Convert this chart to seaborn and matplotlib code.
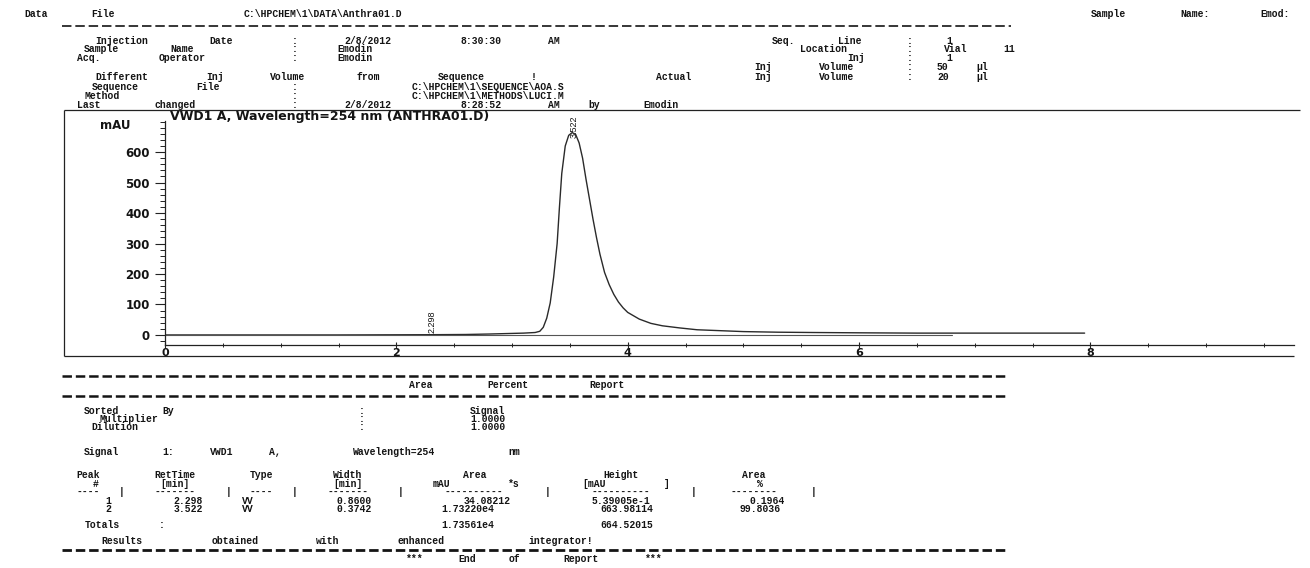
import re
import numpy as np
import pandas as pd
import matplotlib
matplotlib.use("Agg")
import matplotlib.pyplot as plt
from matplotlib.ticker import MultipleLocator, FixedLocator
import seaborn as sns

# ---------------- data ----------------
time_min = [0.0, 0.5, 1.0, 1.5, 2.0, 2.3, 2.6, 2.8, 3.0, 3.1, 3.2, 3.24, 3.27, 3.30,
            3.33, 3.36, 3.39, 3.41, 3.43, 3.46, 3.49, 3.52, 3.55, 3.58, 3.61, 3.64,
            3.67, 3.70, 3.73, 3.76, 3.80, 3.84, 3.88, 3.92, 3.96, 4.00, 4.10, 4.20,
            4.30, 4.45, 4.60, 4.80, 5.00, 5.30, 5.60, 6.00, 6.50, 7.00, 7.50, 7.95]
signal_mau = [0, 0, 0, 0, 0.5, 0.8, 1.5, 3, 5, 6, 8, 12, 25, 55,
              105, 190, 300, 420, 530, 620, 655, 664, 658, 630, 580, 510,
              445, 380, 320, 265, 205, 165, 133, 108, 89, 74, 52, 38,
              30, 23, 17, 14, 11, 9, 8, 7, 6, 6, 6, 6]
baseline_time = [0.0, 6.8]
baseline_mau = [0.0, 0.0]
x_ticks = [0, 2, 4, 6, 8]
y_ticks = [0, 100, 200, 300, 400, 500, 600]

chart_title = "VWD1 A, Wavelength=254 nm (ANTHRA01.D)"
y_unit = "mAU"

page_file = r"Data File C:\HPCHEM\1\DATA\Anthra01.D"
page_sample = "Sample Name: Emod:"
header_left = [("Injection Date", "2/8/2012 8:30:30 AM"),
               ("Sample Name", "Emodin"),
               ("Acq. Operator", "Emodin")]
inj_warning = "Different Inj Volume from Sequence !"
inj_actual = "Actual"
header_left2 = [("Sequence File", r"C:\HPCHEM\1\SEQUENCE\AOA.S"),
                ("Method", r"C:\HPCHEM\1\METHODS\LUCI.M"),
                ("Last changed", "2/8/2012 8:28:52 AM by Emodin")]
header_right = [("Seq. Line", " 1"), ("Location", "Vial 11"), ("Inj", " 1"),
                ("Inj Volume", "50 µl"), ("Inj Volume", "20 µl")]

report_title = "Area Percent Report"
report_params = [("Sorted By", "Signal"), ("Multiplier", "1.0000"), ("Dilution", "1.0000")]
signal_line = "Signal 1: VWD1 A, Wavelength=254 nm"
table_head1 = "Peak RetTime Type  Width     Area      Height     Area"
table_head2 = "  #   [min]        [min]   mAU   *s   [mAU   ]      %"
table_rule = "----|-------|----|-------|----------|----------|--------|"
peak_no = [1, 2]
ret_time = [2.298, 3.522]
peak_type = ["VV", "VV"]
width_min = [0.8600, 0.3742]
area_val = ["34.08212", "1.73220e4"]
height_val = ["5.39005e-1", "663.98114"]
area_pct = [0.1964, 99.8036]
totals_label = "Totals :"
total_area = "1.73561e4"
total_height = "664.52015"
results_note = "Results obtained with enhanced integrator!"
end_note = "*** End of Report ***"

# ---------------- style ----------------
sns.set_theme(style="ticks")
plt.rcParams["font.family"] = ["DejaVu Sans"]
plt.rcParams["lines.scale_dashes"] = False
TXT = "#141414"
W, H = 1310, 568

fig = plt.figure(figsize=(W / 100, H / 100), dpi=100, facecolor="white")
fa = fig.add_axes([0, 0, 1, 1])
fa.set_xlim(0, W)
fa.set_ylim(H, 0)
fa.axis("off")

P = 13.3  # width of one printed character cell in the scan (px)
X0 = 62
MONO = dict(family="Liberation Mono", fontsize=7, fontweight="bold", color=TXT)
TOK = re.compile(r"\||[^\s|]+")


def mono(x0, y, s):
    """Print a monospaced report line, word by word, on the scan's character grid."""
    for m in TOK.finditer(s):
        tok = m.group()
        xc = x0 + (m.start() + len(tok) / 2) * P
        fa.text(xc, y, tok, ha="center", va="center", **MONO)


def rule(x0, x1, y, lw=1.3, dash=(6.8, 2.8)):
    fa.plot([x0, x1], [y, y], color=TXT, lw=lw, ls=(0, dash), solid_capstyle="butt")


# ---------------- page header ----------------
mono(10, 14, page_file)
mono(W - len(page_sample) * P - 2, 14, page_sample)
rule(X0, 1011, 25.5, lw=1.2)

for y, (lab, val) in zip([40.5, 49.2, 57.9], header_left):
    mono(X0, y, f"{lab:<17}: {val}")
mono(X0, 77.0, f"{inj_warning:<43}{inj_actual}")
for y, (lab, val) in zip([86.6, 95.6, 104.6], header_left2):
    mono(X0, y, f"{lab:<17}: {val}")
for y, (lab, val) in zip([40.5, 49.2, 57.9, 66.6, 77.0], header_right):
    mono(730, y, f"{lab:>11}  : {val}")

# ---------------- chart frame ----------------
FR = dict(color="#222222", lw=0.9, solid_capstyle="butt")
fa.plot([64, 64], [110, 356], **FR)
fa.plot([64, 1300], [110, 110], **FR)
fa.plot([64, 1294], [356, 356], **FR)
fa.text(170, 116.5, chart_title, ha="left", va="center", fontsize=9,
        fontweight="bold", color=TXT, family="DejaVu Sans")
fa.text(115, 125.5, y_unit, ha="center", va="center", fontsize=8.5,
        fontweight="bold", color=TXT, family="DejaVu Sans")

# ---------------- chromatogram ----------------
ax = fig.add_axes([165 / W, (H - 345) / H, (1294 - 165) / W, (345 - 121) / H])
ax.set_facecolor("none")
df = pd.DataFrame({"time": time_min, "mAU": signal_mau})
sns.lineplot(data=df, x="time", y="mAU", ax=ax, color="#2a2a2a", linewidth=1.0,
             estimator=None, sort=False)
base = pd.DataFrame({"time": baseline_time, "mAU": baseline_mau})
sns.lineplot(data=base, x="time", y="mAU", ax=ax, color="#555555", linewidth=0.8,
             estimator=None, sort=False)
ax.set_xlim(0, 9.76)
ax.set_ylim(-33, 702)
ax.set_xlabel("")
ax.set_ylabel("")
sns.despine(ax=ax)
for s in ("left", "bottom"):
    ax.spines[s].set_color("#222222")
    ax.spines[s].set_linewidth(0.9)
ax.xaxis.set_major_locator(FixedLocator(x_ticks))
ax.xaxis.set_minor_locator(MultipleLocator(0.5))
ax.yaxis.set_major_locator(FixedLocator(y_ticks))
ax.yaxis.set_minor_locator(MultipleLocator(20))
ax.set_xticklabels([str(v) for v in x_ticks])
ax.set_yticklabels([str(v) for v in y_ticks])
ax.tick_params(axis="y", which="major", direction="out", length=7, width=0.8,
               color="#222222", pad=4, labelsize=8.5, labelcolor=TXT)
ax.tick_params(axis="y", which="minor", direction="out", length=3.5, width=0.7,
               color="#222222")
ax.tick_params(axis="x", which="major", direction="inout", length=5, width=0.8,
               color="#222222", pad=-0.5, labelsize=8, labelcolor=TXT)
ax.tick_params(axis="x", which="minor", direction="inout", length=3, width=0.7,
               color="#222222")
for lbl in ax.get_xticklabels() + ax.get_yticklabels():
    lbl.set_fontweight("bold")
ax.grid(False)

for rt in ret_time:
    yv = float(np.interp(rt, time_min, signal_mau))
    ax.annotate(f"{rt:.3f}", xy=(rt, yv), xytext=(1, 1 if yv < 50 else -4),
                textcoords="offset points", rotation=90, ha="center", va="bottom",
                fontsize=6.5, family="Liberation Sans", color=TXT,
                annotation_clip=False)

# ---------------- area percent report ----------------
rule(X0, 1006, 376, lw=1.8)
mono(X0, 385.5, " " * 25 + report_title)
rule(X0, 1006, 396, lw=1.8)
for y, (lab, val) in zip([410.5, 419, 427.5], report_params):
    mono(X0, y, f"{lab:<22}:      {val}")
mono(X0, 452, signal_line)
mono(X0, 475.5, table_head1)
mono(X0, 484, table_head2)
mono(X0, 492, table_rule)
for y, n, rt, tp, w, a, h, pc in zip([500.5, 509], peak_no, ret_time, peak_type,
                                     width_min, area_val, height_val, area_pct):
    a_txt = a.ljust(10) if "e" in a else a.rjust(10)
    mono(X0, y, f"{n:>4} {rt:>7.3f} {tp:<4} {w:>7.4f} {a_txt} {h:>10} {pc:>8.4f}")
mono(X0, 525, totals_label.ljust(26) + total_area.ljust(11) + total_height.rjust(10))
mono(X0, 541, " " + results_note)
rule(X0, 1006, 549.5, lw=2.0)
mono(X0, 559, " " * 25 + end_note)

fig.savefig("out.png", dpi=100, facecolor="white")
